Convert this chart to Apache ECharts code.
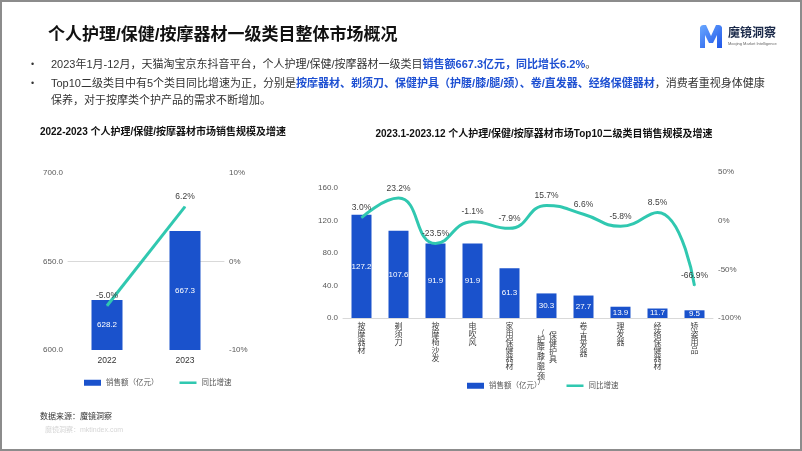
<!DOCTYPE html>
<html><head><meta charset="utf-8">
<script src="https://cdn.jsdelivr.net/npm/echarts@6/dist/echarts.min.js"></script>
<style>html,body{margin:0;padding:0;background:#fff}#c{width:802px;height:451px}</style>
</head><body><div id="c"></div>
<script>
// ---- data ----
const years = ['2022', '2023'];
const totalSales = [628.2, 667.3];
const totalGrowth = [-5.0, 6.2];
const categories = ['按摩器材', '剃须刀', '按摩椅沙发', '电吹风', '家用保健器材', '保健护具（护腰/膝/腿/颈）', '卷/直发器', '理发器', '经络保健器材', '矫姿用品'];
const catSales = [127.2, 107.6, 91.9, 91.9, 61.3, 30.3, 27.7, 13.9, 11.7, 9.5];
const catGrowth = [3.0, 23.2, -23.5, -1.1, -7.9, 15.7, 6.6, -5.8, 8.5, -66.9];
const seriesNames = ['销售额（亿元）', '同比增速'];

// ---- style ----
const FONT = '"Liberation Sans","Noto Sans CJK SC",sans-serif';
const BLUE = '#1a52cc';
const TEAL = '#30c8b0';
const AXISC = '#595959';
const TXT = '#333333';
const HL = '#1e50d2';

function stack(str, cls) {
  return Array.from(str).map(function (ch) {
    if (ch === '/') return '{s|/}';
    if (ch === '（' || ch === '）') return '{p|' + ch + '}';
    return '{' + cls + '|' + ch + '}';
  }).join('\n');
}
function splitLong(name) {
  const i = name.indexOf('（');
  return i < 0 ? null : [name.slice(0, i), name.slice(i)];
}
const baseRich = {
  c: { fontSize: 8, lineHeight: 8, color: '#404040', fontFamily: FONT },
  s: { fontSize: 6, lineHeight: 3, color: '#404040', fontFamily: FONT },
  p: { fontSize: 7, lineHeight: 5, color: '#404040', fontFamily: FONT },
  g: { fontSize: 8, lineHeight: 9 }
};
const mainRich = Object.assign({}, baseRich, {
  r: { fontSize: 8, lineHeight: 8, color: '#404040', fontFamily: FONT, padding: [0, 0, 0, 13] }
});
const subRich = {
  c: { fontSize: 8, lineHeight: 7, color: '#404040', fontFamily: FONT, padding: [0, 11, 0, 0] },
  s: { fontSize: 6, lineHeight: 3, color: '#404040', fontFamily: FONT, padding: [0, 11, 0, 0] },
  p: { fontSize: 7, lineHeight: 5, color: '#404040', fontFamily: FONT, padding: [0, 11, 0, 0] },
  g: { fontSize: 8, lineHeight: 8 }
};
function mainFmt(name) {
  const parts = splitLong(name);
  if (parts) return '{g| }\n' + stack(parts[0], 'r');
  return stack(name, 'c');
}
function subFmt(name) {
  const parts = splitLong(name);
  if (parts) return '{g| }\n' + stack(parts[1], 'c');
  return '';
}
const pct = function (v) { return v + '%'; };
const fix1 = function (v) { return v.toFixed(1); };

const chart = echarts.init(document.getElementById('c'), null, { renderer: 'canvas' });

const valAxisCommon = {
  type: 'value',
  splitLine: { show: false },
  axisLine: { show: false },
  axisTick: { show: false }
};
function lbl(fmt) {
  return { formatter: fmt, fontSize: 8, color: AXISC, fontFamily: FONT, margin: 5 };
}
const mPts = [[0,23],[0,2.5],[1,0.7],[3,0],[6,0],[11,11],[16,0],[19,0],[21,0.7],[22,2.5],[22,23],[17,23],[17,10],[13,18],[9,18],[5,10],[5,23]];

const option = {
  animation: false,
  backgroundColor: '#fff',
  textStyle: { fontFamily: FONT },
  grid: [
    { left: 68, width: 156, top: 173, height: 177, outerBoundsMode: 'none', containLabel: false },
    { left: 343, width: 370, top: 172, height: 146, outerBoundsMode: 'none', containLabel: false }
  ],
  xAxis: [
    {
      gridIndex: 0, type: 'category', data: years,
      axisLine: { lineStyle: { color: '#d9d9d9' } }, axisTick: { show: false },
      axisLabel: { fontSize: 8.5, color: TXT, margin: 6, fontFamily: FONT }
    },
    {
      gridIndex: 1, type: 'category', data: categories, position: 'bottom',
      axisLine: { lineStyle: { color: '#d9d9d9' } }, axisTick: { show: false },
      axisLabel: { interval: 0, margin: 5, formatter: mainFmt, rich: mainRich }
    },
    {
      gridIndex: 1, type: 'category', data: categories, position: 'bottom',
      axisLine: { show: false }, axisTick: { show: false }, splitLine: { show: false },
      axisLabel: { interval: 0, margin: 5, formatter: subFmt, rich: subRich }
    }
  ],
  yAxis: [
    Object.assign({ gridIndex: 0, min: 600, max: 700, interval: 50, axisLabel: lbl(fix1) }, valAxisCommon),
    Object.assign({ gridIndex: 0, position: 'right', min: -10, max: 10, interval: 10, axisLabel: lbl(pct) }, valAxisCommon),
    Object.assign({ gridIndex: 1, min: 0, max: 180, interval: 40, axisLabel: Object.assign(lbl(fix1), { showMaxLabel: false }) }, valAxisCommon),
    Object.assign({ gridIndex: 1, position: 'right', min: -100, max: 50, interval: 50, axisLabel: lbl(pct) }, valAxisCommon)
  ],
  legend: [
    {
      data: [{ name: seriesNames[0], icon: 'rect' }, { name: seriesNames[1], icon: 'path://M0,0H20V3H0Z' }],
      left: 79, top: 374, itemWidth: 17, itemHeight: 6, itemGap: 21,
      textStyle: { fontSize: 7.5, color: AXISC, fontFamily: FONT }
    },
    {
      data: [{ name: seriesNames[0], icon: 'rect' }, { name: seriesNames[1], icon: 'path://M0,0H20V3H0Z' }],
      left: 462, top: 377, itemWidth: 17, itemHeight: 6, itemGap: 25,
      textStyle: { fontSize: 7.5, color: AXISC, fontFamily: FONT }
    }
  ],
  series: [
    {
      name: seriesNames[0], type: 'bar', xAxisIndex: 0, yAxisIndex: 0, data: totalSales,
      barWidth: 31, color: BLUE, itemStyle: { color: BLUE },
      label: { show: true, position: 'inside', color: '#fff', fontSize: 8, fontFamily: FONT, formatter: function (p) { return p.value.toFixed(1); } }
    },
    {
      name: seriesNames[1], type: 'line', xAxisIndex: 0, yAxisIndex: 1, data: totalGrowth,
      color: TEAL, symbol: 'circle', symbolSize: 1, itemStyle: { color: TEAL },
      lineStyle: { color: TEAL, width: 3 }, z: 5,
      label: { show: true, position: 'top', distance: 5, color: '#404040', fontSize: 8.5, fontFamily: FONT, formatter: function (p) { return p.value.toFixed(1) + '%'; } }
    },
    {
      name: seriesNames[0], type: 'bar', xAxisIndex: 1, yAxisIndex: 2, data: catSales,
      barWidth: 20, color: BLUE, itemStyle: { color: BLUE },
      label: { show: true, position: 'inside', color: '#fff', fontSize: 8, fontFamily: FONT, formatter: function (p) { return p.value.toFixed(1); } }
    },
    {
      name: seriesNames[1], type: 'line', xAxisIndex: 1, yAxisIndex: 3, data: catGrowth,
      smooth: true, color: TEAL, symbol: 'circle', symbolSize: 1, itemStyle: { color: TEAL },
      lineStyle: { color: TEAL, width: 3 }, z: 5,
      label: { show: true, position: 'top', distance: 5, color: '#404040', fontSize: 8.5, fontFamily: FONT, formatter: function (p) { return p.value.toFixed(1) + '%'; } }
    }
  ],
  graphic: [
    { type: 'rect', shape: { x: 1, y: 1, width: 800, height: 449 }, style: { fill: 'none', stroke: '#8c8c8c', lineWidth: 2 }, silent: true, z: 100 },
    { type: 'text', x: 48, y: 35, style: { text: '个人护理/保健/按摩器材一级类目整体市场概况', fontSize: 17, fontWeight: 'bold', fill: '#111', fontFamily: FONT, verticalAlign: 'middle' } },
    { type: 'polygon', x: 700, y: 25, shape: { points: mPts },
      style: { fill: new echarts.graphic.LinearGradient(0, 0, 1, 1, [{ offset: 0, color: '#6aa8ff' }, { offset: 1, color: '#1f56e8' }]) } },
    { type: 'text', x: 728, y: 34, style: { text: '魔镜洞察', fontSize: 12, fontWeight: 'bold', fill: '#1b2a4a', fontFamily: FONT, verticalAlign: 'middle' } },
    { type: 'text', x: 728, y: 44, style: { text: 'Moojing Market Intelligence', fontSize: 4, fill: '#666', fontFamily: FONT, verticalAlign: 'middle' } },
    { type: 'text', x: 31, y: 65, style: { text: '•', fontSize: 9, fill: TXT, fontFamily: FONT, verticalAlign: 'middle' } },
    { type: 'text', x: 31, y: 84, style: { text: '•', fontSize: 9, fill: TXT, fontFamily: FONT, verticalAlign: 'middle' } },
    { type: 'text', x: 51, y: 65, style: {
        text: '{n|2023年1月-12月，天猫淘宝京东抖音平台，个人护理/保健/按摩器材一级类目}{b|销售额667.3亿元，同比增长6.2%}{n|。}',
        verticalAlign: 'middle',
        rich: { n: { fontSize: 11, fill: TXT, fontFamily: FONT }, b: { fontSize: 11, fontWeight: 'bold', fill: HL, fontFamily: FONT } } } },
    { type: 'text', x: 51, y: 84, style: {
        text: '{n|Top10二级类目中有5个类目同比增速为正，分别是}{b|按摩器材、剃须刀、保健护具（护腰/膝/腿/颈）、卷/直发器、经络保健器材}{n|，消费者重视身体健康}',
        verticalAlign: 'middle',
        rich: { n: { fontSize: 11, fill: TXT, fontFamily: FONT }, b: { fontSize: 11, fontWeight: 'bold', fill: HL, fontFamily: FONT } } } },
    { type: 'text', x: 51, y: 101, style: { text: '保养，对于按摩类个护产品的需求不断增加。', fontSize: 11, fill: TXT, fontFamily: FONT, verticalAlign: 'middle' } },
    { type: 'text', x: 163, y: 132, style: { text: '2022-2023 个人护理/保健/按摩器材市场销售规模及增速', fontSize: 10, fontWeight: 'bold', fill: '#111', fontFamily: FONT, align: 'center', verticalAlign: 'middle' } },
    { type: 'text', x: 544, y: 134, style: { text: '2023.1-2023.12 个人护理/保健/按摩器材市场Top10二级类目销售规模及增速', fontSize: 10, fontWeight: 'bold', fill: '#111', fontFamily: FONT, align: 'center', verticalAlign: 'middle' } },
    { type: 'text', x: 40, y: 417, style: { text: '数据来源：魔镜洞察', fontSize: 8, fill: TXT, fontFamily: FONT, verticalAlign: 'middle' } },
    { type: 'text', x: 45, y: 430, style: { text: '魔镜洞察：mktindex.com', fontSize: 7, fill: '#d6d6d6', fontFamily: FONT, verticalAlign: 'middle' } }
  ]
};
chart.setOption(option);
</script>
</body></html>
